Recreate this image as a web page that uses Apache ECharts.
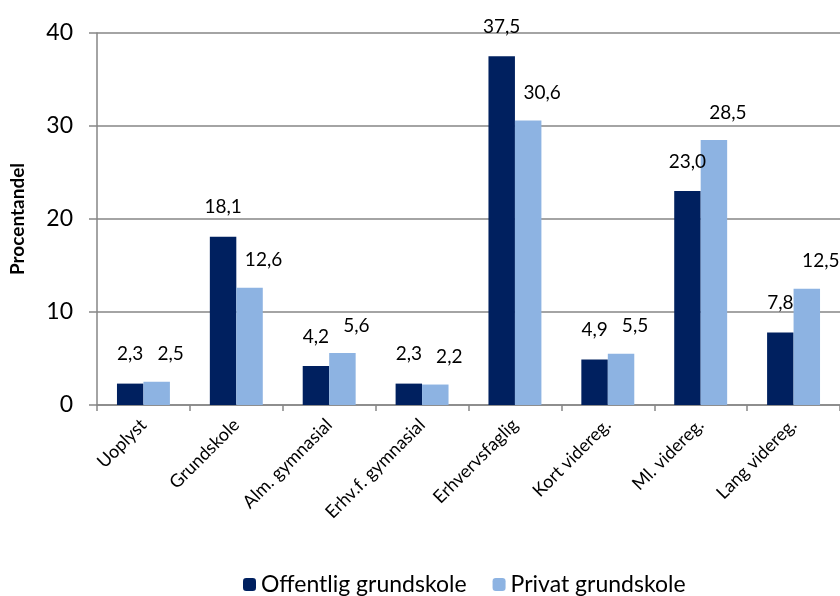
<!DOCTYPE html>
<html>
<head>
<meta charset="UTF-8">
<title></title>
<script src="https://cdn.jsdelivr.net/npm/echarts@6/dist/echarts.min.js"></script>
<style>
  body { margin: 0; background: #fff; }
  #content { width: 840px; height: 596px; }
</style>
</head>
<body>
<div id="content"></div>
<script>
var categories = ['Uoplyst', 'Grundskole', 'Alm. gymnasial', 'Erhv.f. gymnasial',
    'Erhvervsfaglig', 'Kort videreg.', 'Ml. videreg.', 'Lang videreg.'];
var offentlig = [2.3, 18.1, 4.2, 2.3, 37.5, 4.9, 23.0, 7.8];
var privat = [2.5, 12.6, 5.6, 2.2, 30.6, 5.5, 28.5, 12.5];
var yTicks = [0, 10, 20, 30, 40];

var fontName = 'Lato';
function komma(p) { return p.value.toFixed(1).replace('.', ','); }

var myChart = echarts.init(document.getElementById('content'));

var option = {
    animation: false,
    textStyle: { fontFamily: fontName },
    grid: { left: 97, right: -7, top: 33, bottom: 191 },
    legend: {
        left: 238,
        top: 568,
        itemWidth: 13,
        itemHeight: 13,
        itemGap: 26,
        textStyle: { fontSize: 23, color: '#000', fontFamily: fontName },
        data: ['Offentlig grundskole', 'Privat grundskole']
    },
    xAxis: {
        type: 'category',
        data: categories,
        axisLine: { lineStyle: { color: '#868686', width: 1.5 } },
        axisTick: { show: true, length: 6, lineStyle: { color: '#868686', width: 1.5 } },
        axisLabel: { rotate: 45, fontSize: 18, color: '#000', margin: 17, fontFamily: fontName }
    },
    yAxis: {
        type: 'value',
        min: yTicks[0],
        max: yTicks[yTicks.length - 1],
        interval: 10,
        name: 'Procentandel',
        nameLocation: 'middle',
        nameGap: 70,
        nameTextStyle: { fontSize: 19, fontWeight: 'bold', color: '#000', fontFamily: fontName },
        axisLine: { show: true, lineStyle: { color: '#868686', width: 1.5 } },
        axisTick: { show: true, length: 8, lineStyle: { color: '#868686', width: 1.5 } },
        axisLabel: { fontSize: 23, color: '#000', margin: 24, fontFamily: fontName },
        splitLine: { lineStyle: { color: '#868686', width: 1.5 } }
    },
    series: [
        {
            name: 'Offentlig grundskole',
            type: 'bar',
            barGap: '0%',
            barCategoryGap: '43%',
            itemStyle: { color: '#00205F' },
            label: { show: true, position: 'top', distance: 20, fontSize: 19, color: '#000', formatter: komma },
            data: offentlig
        },
        {
            name: 'Privat grundskole',
            type: 'bar',
            itemStyle: { color: '#8DB3E2' },
            label: { show: true, position: 'top', distance: 18, offset: [14, 0], fontSize: 19, color: '#000', formatter: komma },
            data: privat
        }
    ]
};

myChart.setOption(option);
</script>
</body>
</html>
